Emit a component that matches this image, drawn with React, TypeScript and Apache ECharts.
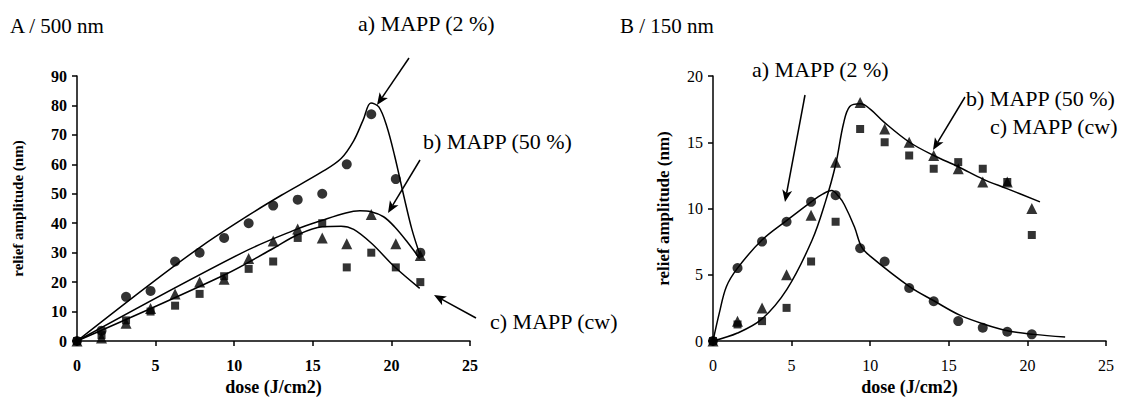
import React, { useEffect, useRef } from "react";
import * as echarts from "echarts";

// ---- data ----
const dose = [0, 1.56, 3.12, 4.68, 6.24, 7.8, 9.36, 10.92, 12.48, 14.04, 15.6, 17.16, 18.72, 20.28, 21.84];
const doseB = [0, 1.56, 3.12, 4.68, 6.24, 7.8, 9.36, 10.92, 12.48, 14.04, 15.6, 17.16, 18.72, 20.28];

// Panel A (500 nm)
const aCircles = [0, 3.5, 15, 17, 27, 30, 35, 40, 46, 48, 50, 60, 77, 55, 30]; // a) MAPP (2 %)
const aTriangles = [0, 1, 6, 11, 16, 20, 21, 28, 34, 38, 35, 33, 43, 33, 29]; // b) MAPP (50 %)
const aSquares = [0, 2, 7, 10, 12, 16, 22, 24.5, 27, 35, 40, 25, 30, 25, 20]; // c) MAPP (cw)

const aFitCircles = [[0, 0], [4.7, 19.5], [8, 32.5], [11, 43], [13, 49.5], [15.6, 57.5], [16.8, 62], [17.6, 68], [18.2, 75], [18.7, 80.8], [19.2, 79.5], [19.7, 73], [20.2, 63], [20.8, 49], [21.3, 38], [21.8, 29.5]];
const aFitTriangles = [[0, 0], [10.4, 29.7], [14, 38], [15.6, 41], [17.1, 43.5], [18, 44.2], [18.7, 43.9], [19.5, 42.2], [20.2, 38.8], [21, 33.7], [21.8, 28]];
const aFitSquares = [[0, 0], [9.4, 22.5], [12.5, 31.5], [14, 36], [15.6, 38.8], [16.8, 39], [17.6, 37.9], [18.75, 33.1], [20.2, 25.2], [21.8, 17.9]];

// Panel B (150 nm)
const bCircles = [0, 5.5, 7.5, 9, 10.5, 11, 7, 6, 4, 3, 1.5, 1, 0.7, 0.5];
const bTriangles = [0, 1.5, 2.5, 5, 9.5, 13.5, 18, 16, 15, 14, 13, 12, 12, 10];
const bSquares = [0, 1.25, 1.5, 2.5, 6, 9, 16, 15, 14, 13, 13.5, 13, 12, 8];

const bFitCircles = [[0, 0], [0.4, 2.1], [0.85, 4.1], [1.56, 5.5], [3.1, 7.6], [4.7, 9.1], [6.25, 10.5], [7.0, 11.1], [7.55, 11.35], [8.0, 10.9], [8.35, 10.3], [9.0, 8.6], [9.45, 7.1], [10.0, 6.4], [12.5, 4.1], [14.1, 3.0], [15.7, 1.95], [17.3, 1.25], [18.8, 0.75], [20.4, 0.5], [22.4, 0.3]];
const bFitTriangles = [[0, 0], [1.56, 0.6], [3.1, 1.65], [4.7, 3.9], [6.3, 7.6], [7.15, 10.5], [7.8, 13.3], [8.3, 16.4], [8.7, 17.7], [9.4, 17.9], [10.0, 17.5], [10.9, 16.5], [12.5, 15.0], [14.05, 14.0], [15.6, 13.15], [17.2, 12.2], [18.7, 11.5], [20.8, 10.5]];

const FONT = '"Liberation Serif", "Times New Roman", Times, "DejaVu Serif", serif';

function pairs(xs: number[], ys: number[]) {
  return ys.map((y, i) => [xs[i], y]);
}

function arrow(x1: number, y1: number, x2: number, y2: number) {
  const dx = x2 - x1, dy = y2 - y1;
  const len = Math.sqrt(dx * dx + dy * dy);
  const ux = dx / len, uy = dy / len;
  const L = 12, W = 5, N = 9;
  const bx = x2 - ux * L, by = y2 - uy * L;
  const nx = x2 - ux * N, ny = y2 - uy * N;
  return [
    { type: "line", shape: { x1, y1, x2: nx, y2: ny }, style: { stroke: "#000", lineWidth: 1.5 } },
    {
      type: "polygon",
      shape: { points: [[x2, y2], [bx - uy * W, by + ux * W], [nx, ny], [bx + uy * W, by - ux * W]] },
      style: { fill: "#000" },
    },
  ];
}

function label(text: string, x: number, y: number, size = 21) {
  return {
    type: "text",
    x,
    y,
    style: {
      text,
      fill: "#000",
      fontFamily: FONT,
      fontSize: size,
      verticalAlign: "middle",
      align: "left",
    },
  };
}

export default function App() {
  const ref = useRef<HTMLDivElement>(null);
  useEffect(() => {
    if (!ref.current) return;
    const chart = echarts.init(ref.current, null, { renderer: "svg" });
    const axisLine = { show: true, lineStyle: { color: "#000", width: 1.5 } };
    const axisTick = { show: true, inside: false, length: 5, lineStyle: { color: "#000", width: 1.5 } };
    const mkX = (idx: number, bold: boolean, gap: number) => ({
      type: "value",
      gridIndex: idx,
      min: 0,
      max: 25,
      interval: 5,
      axisLine,
      axisTick,
      splitLine: { show: false },
      axisLabel: { color: "#000", fontFamily: FONT, fontSize: 16, fontWeight: bold ? "bold" : "normal", margin: 16 },
      name: "dose (J/cm2)",
      nameLocation: "middle",
      nameGap: gap,
      nameTextStyle: { color: "#000", fontFamily: FONT, fontSize: 18, fontWeight: "bold" },
    });
    const mkY = (idx: number, max: number, interval: number, bold: boolean, nameSize: number, gap: number) => ({
      type: "value",
      gridIndex: idx,
      min: 0,
      max,
      interval,
      axisLine,
      axisTick,
      splitLine: { show: false },
      axisLabel: { color: "#000", fontFamily: FONT, fontSize: 16, fontWeight: bold ? "bold" : "normal", margin: 10 },
      name: "relief amplitude (nm)",
      nameLocation: "middle",
      nameGap: gap,
      nameTextStyle: { color: "#000", fontFamily: FONT, fontSize: nameSize, fontWeight: "bold" },
    });
    const scatter = (name: string, data: number[][], symbol: string, size: number, idx: number) => ({
      name,
      type: "scatter",
      xAxisIndex: idx,
      yAxisIndex: idx,
      data,
      symbol,
      symbolSize: size,
      itemStyle: { color: "#000" },
      z: 3,
    });
    const fit = (data: number[][], idx: number) => ({
      type: "line",
      xAxisIndex: idx,
      yAxisIndex: idx,
      data,
      smooth: 0.35,
      showSymbol: false,
      lineStyle: { color: "#000", width: 1.5 },
      z: 2,
    });
    chart.setOption({
      animation: false,
      backgroundColor: "#fff",
      textStyle: { fontFamily: FONT },
      grid: [
        { left: 77, right: 652, top: 76, bottom: 57, containLabel: false, outerBoundsMode: "none" },
        { left: 713, right: 16, top: 76, bottom: 57, containLabel: false, outerBoundsMode: "none" },
      ],
      xAxis: [mkX(0, true, 37), mkX(1, false, 37)],
      yAxis: [mkY(0, 90, 10, true, 15, 52), mkY(1, 20, 5, false, 17, 41)],
      series: [
        fit(aFitCircles, 0),
        fit(aFitTriangles, 0),
        fit(aFitSquares, 0),
        scatter("a) MAPP (2 %)", pairs(dose, aCircles), "circle", 10, 0),
        scatter("b) MAPP (50 %)", pairs(dose, aTriangles), "triangle", 11, 0),
        scatter("c) MAPP (cw)", pairs(dose, aSquares), "rect", 8, 0),
        fit(bFitCircles, 1),
        fit(bFitTriangles, 1),
        scatter("a) MAPP (2 %)", pairs(doseB, bCircles), "circle", 10, 1),
        scatter("b) MAPP (50 %)", pairs(doseB, bTriangles), "triangle", 11, 1),
        scatter("c) MAPP (cw)", pairs(doseB, bSquares), "rect", 8, 1),
      ],
      graphic: [
        label("A / 500 nm", 10, 26),
        label("a) MAPP (2 %)", 358, 23, 22),
        label("b) MAPP (50 %)", 423, 141, 22),
        label("c) MAPP (cw)", 490, 321, 22),
        label("B / 150 nm", 620, 26),
        label("a) MAPP (2 %)", 752, 69, 22),
        label("b) MAPP (50 %)", 966, 98, 22),
        label("c) MAPP (cw)", 990, 126, 22),
        ...arrow(409, 58, 377, 105),
        ...arrow(420, 160, 388, 213),
        ...arrow(476, 318, 434, 295),
        ...arrow(805, 95, 785, 202),
        ...arrow(965, 97, 933, 150),
      ],
    });
    return () => chart.dispose();
  }, []);
  return (
    <div
      ref={ref}
      style={{ position: "absolute", left: 0, top: 0, width: 1122, height: 398, background: "#fff" }}
    />
  );
}
